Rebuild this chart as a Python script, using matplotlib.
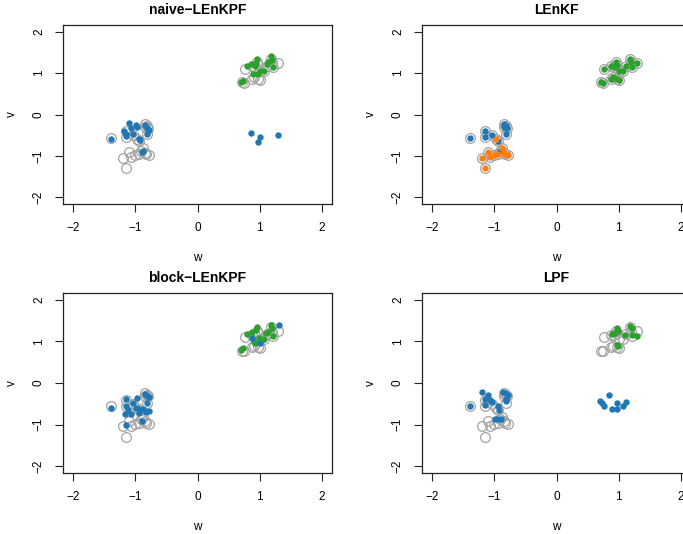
import matplotlib
matplotlib.use("Agg")
import matplotlib.pyplot as plt
import numpy as np

plt.rcParams['font.family'] = ['Liberation Sans', 'DejaVu Sans']

# reference ensemble (grey open circles), same in every panel
gray_pts = [
    (-1.385, -0.56), (-1.155, -0.40), (-1.15, -0.55), (-1.043, -0.50), (-0.936, -0.65),
    (-0.85, -0.23), (-0.81, -0.28), (-0.79, -0.32), (-0.84, -0.30), (-0.818, -0.47),
    (-0.904, -0.87), (-0.973, -0.59),
    (-1.198, -1.04), (-1.155, -1.29), (-1.107, -0.91), (-1.064, -1.02), (-1.0, -0.98),
    (-0.947, -0.95), (-0.877, -0.82), (-0.85, -0.92), (-0.786, -0.98), (-0.82, -0.96),
    (0.717, 0.78), (0.743, 0.76), (0.765, 1.10), (0.872, 1.16), (0.957, 1.26),
    (0.968, 1.20), (0.872, 0.86), (0.914, 0.90), (0.968, 0.86), (1.0, 0.84),
    (1.005, 1.05), (1.075, 1.06), (1.118, 1.17), (1.18, 1.34), (1.198, 1.26),
    (1.219, 1.14), (1.30, 1.24), (0.93, 1.15),
]
# mode of each grey point in the LEnKF panel
lenkf_labels = ['b'] * 11 + ['o'] * 11 + ['g'] * 18

naive_blue = [
    (-1.39, -0.60), (-1.107, -0.20), (-1.176, -0.40), (-1.155, -0.46), (-1.07, -0.32),
    (-0.99, -0.26), (-0.979, -0.30), (-1.032, -0.47), (-0.941, -0.58), (-0.925, -0.62),
    (-0.845, -0.26), (-0.807, -0.32), (-0.786, -0.38), (-0.818, -0.47), (-0.898, -0.90),
    (-0.872, -0.89), (-1.15, -0.52),
    (0.856, -0.44), (1.0, -0.54), (0.979, -0.66), (1.294, -0.50),
]
naive_green = [
    (0.706, 0.79), (0.733, 0.82), (0.791, 1.18), (0.882, 1.22), (0.92, 1.18),
    (0.963, 1.34), (0.947, 1.24), (0.893, 0.97), (0.973, 0.98), (1.0, 1.06),
    (1.07, 1.06), (1.118, 1.22), (1.134, 1.26), (1.187, 1.40), (1.203, 1.32),
    (1.219, 1.14),
]

block_blue = [
    (-1.39, -0.60), (-1.15, -0.38), (-1.15, -0.54), (-1.112, -0.65), (-1.171, -0.74),
    (-1.07, -0.74), (-1.155, -1.01), (-1.032, -0.47), (-0.979, -0.36), (-0.99, -0.61),
    (-0.936, -0.62), (-0.941, -0.73), (-0.882, -0.62), (-0.898, -0.90), (-0.845, -0.26),
    (-0.807, -0.30), (-0.786, -0.33), (-0.818, -0.47), (-0.829, -0.70), (-0.786, -0.66),
    (0.877, 1.07), (1.316, 1.39), (1.005, 0.95),
]
block_green = [
    (0.706, 0.80), (0.733, 0.83), (0.791, 1.18), (0.877, 1.22), (0.947, 1.27),
    (0.963, 1.35), (0.904, 0.98), (0.93, 0.95), (0.989, 1.07), (1.07, 1.06),
    (1.107, 1.19), (1.128, 1.23), (1.176, 1.40), (1.198, 1.31), (1.214, 1.14),
]

lpf_blue = [
    (-1.385, -0.55), (-1.198, -0.21), (-1.155, -0.38), (-1.144, -0.52), (-1.10, -0.29),
    (-1.064, -0.40), (-1.037, -0.46), (-0.947, -0.54), (-0.93, -0.64), (-0.984, -0.87),
    (-0.941, -0.86), (-0.888, -0.86), (-0.861, -0.21), (-0.824, -0.25), (-0.786, -0.29),
    (-0.807, -0.38), (-0.813, -0.44),
    (0.70, -0.44), (0.738, -0.49), (0.77, -0.54), (0.85, -0.28), (0.888, -0.63),
    (0.968, -0.63), (0.979, -0.48), (1.075, -0.54), (1.112, -0.45),
]
lpf_green = [
    (0.968, 1.31), (0.888, 1.18), (0.941, 1.19), (0.995, 1.25), (0.968, 0.92),
    (0.995, 0.88), (1.107, 1.16), (1.182, 1.38), (1.209, 1.31), (1.219, 1.15),
    (1.30, 1.14),
]

titles = ['naive\u2212LEnKPF', 'LEnKF', 'block\u2212LEnKPF', 'LPF']
ticks = [-2, -1, 0, 1, 2]

colors = {'b': '#1f77b4', 'o': '#ff7f0e', 'g': '#2ca02c'}
gray = '#a3a3a3'

W, H = 683, 534
fig = plt.figure(figsize=(W / 100, H / 100), dpi=100)

# axes boxes in pixel coordinates (left, top, right, bottom)
boxes = [(63, 25, 332, 204), (422, 25, 691, 204),
         (63, 293, 332, 473), (422, 293, 691, 473)]

lenkf_pts = {k: [p for p, l in zip(gray_pts, lenkf_labels) if l == k] for k in 'bog'}
panels = [
    [('b', naive_blue), ('g', naive_green)],
    [('b', lenkf_pts['b']), ('o', lenkf_pts['o']), ('g', lenkf_pts['g'])],
    [('g', block_green), ('b', block_blue)],
    [('b', lpf_blue), ('g', lpf_green)],
]

gp = np.array(gray_pts)
for (l, t, r, b), title, groups in zip(boxes, titles, panels):
    ax = fig.add_axes([l / W, (H - b) / H, (r - l) / W, (b - t) / H])
    ax.plot(gp[:, 0], gp[:, 1], 'o', ms=7, mfc='none', mec=gray, mew=0.9)
    for key, pts in groups:
        a = np.array(pts)
        ax.plot(a[:, 0], a[:, 1], 'o', ms=4.6, color=colors[key], mec='none')
    ax.set_xlim(-2.16, 2.16)
    ax.set_ylim(-2.16, 2.16)
    ax.set_xticks(ticks)
    ax.set_yticks(ticks)
    ax.set_xticklabels([f'{v}'.replace('-', '\u2212') for v in ticks], fontsize=8.5)
    ax.set_yticklabels([f'{v}'.replace('-', '\u2212') for v in ticks], fontsize=8.5,
                       rotation=90, va='center')
    ax.tick_params(direction='out', length=5.5, width=0.8, pad=7.5, color='#222222')
    for s in ax.spines.values():
        s.set_linewidth(0.9)
        s.set_color('#222222')
    hpx, wpx = b - t, r - l
    ax.text(0.5, 1 + 15 / hpx, title, transform=ax.transAxes, ha='center', va='center',
            fontsize=10, fontweight='bold')
    ax.text(0.5, -54 / hpx, 'w', transform=ax.transAxes, ha='center', va='center',
            fontsize=8.5)
    ax.text(-51 / wpx, 0.5, 'v', transform=ax.transAxes, ha='center', va='center',
            fontsize=8.5, rotation=90)

fig.savefig('out.png', dpi=100)
